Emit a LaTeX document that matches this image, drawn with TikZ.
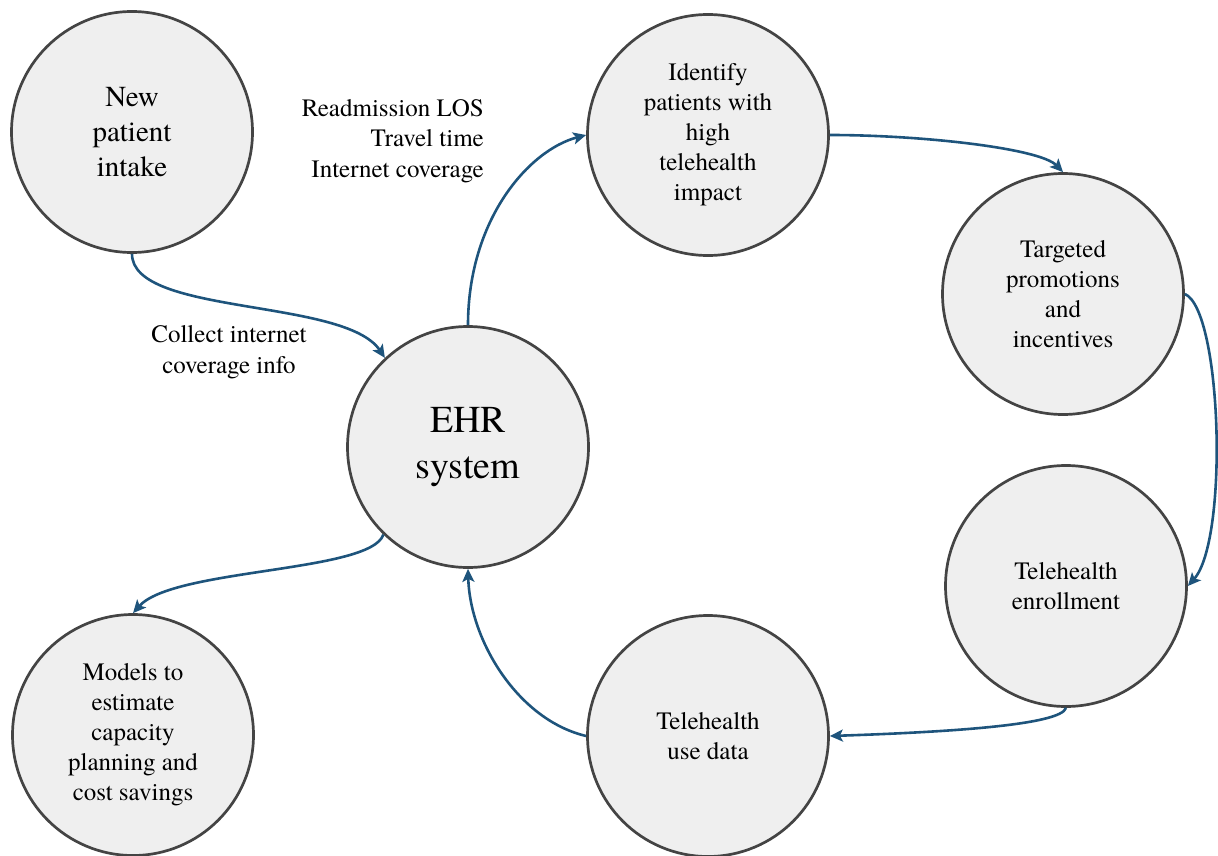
\documentclass[tikz,border=0pt]{standalone}
\usepackage{fontspec}
\IfFontExistsTF{texgyretermes-regular.otf}
  {\setmainfont{texgyretermes-regular.otf}}
  {}
\usetikzlibrary{arrows.meta}
\definecolor{arrowblue}{RGB}{30,84,124}
\definecolor{circlefill}{RGB}{239,239,239}
\definecolor{circleline}{RGB}{68,68,68}
\tikzset{
  bubble/.style={circle, draw=circleline, line width=2.7pt, fill=circlefill,
    minimum size=241pt, inner sep=0pt, align=center, text=black,
    font=\fontsize{25}{30}\selectfont},
  flow/.style={draw=arrowblue, line width=2.6pt,
    -{Stealth[length=13pt,width=12pt,inset=3pt]}},
  note/.style={text=black, font=\fontsize{25}{30.5}\selectfont, inner sep=0pt}
}
\begin{document}
\begin{tikzpicture}[x=1pt,y=-1pt]
\useasboundingbox (0,0) rectangle (1218,856);
\node[bubble, font=\fontsize{29}{35}\selectfont] (npi) at (132,132) {New\\patient\\intake};
\node[bubble] (idf) at (708,135) {Identify\\patients with\\high\\telehealth\\impact};
\node[bubble] (tp) at (1063,294) {Targeted\\promotions\\and\\incentives};
\node[bubble, font=\fontsize{38}{46}\selectfont] (ehr) at (468,447) {EHR\\system};
\node[bubble] (te) at (1066,586) {Telehealth\\enrollment};
\node[bubble] (ud) at (708,736) {Telehealth\\use data};
\node[bubble] (mod) at (133,735) {Models to\\estimate\\capacity\\planning and\\cost savings};

\node[note, align=right, anchor=east] (vars) at (484,141) {Readmission LOS\\Travel time\\Internet coverage};
\node[note, align=center] (collect) at (229,352) {Collect internet\\coverage info};

\draw[flow] (npi.south) .. controls +(0,62) and +(-40,-60) .. (ehr.133);
\draw[flow] (ehr.north) .. controls +(0,-106) and +(-57,15) .. (idf.west);
\draw[flow] (idf.east) .. controls +(91,0) and +(-23,-24) .. (tp.north);
\draw[flow] (tp.east) .. controls +(37,16) and +(41,-46) .. (te.east);
\draw[flow] (te.south) .. controls +(-5,17) and +(121,-4) .. (ud.east);
\draw[flow] (ud.west) .. controls +(-68,-16) and +(2,72) .. (ehr.south);
\draw[flow] (ehr.226) .. controls +(-13,38) and +(40,-45) .. (mod.north);
\end{tikzpicture}
\end{document}
